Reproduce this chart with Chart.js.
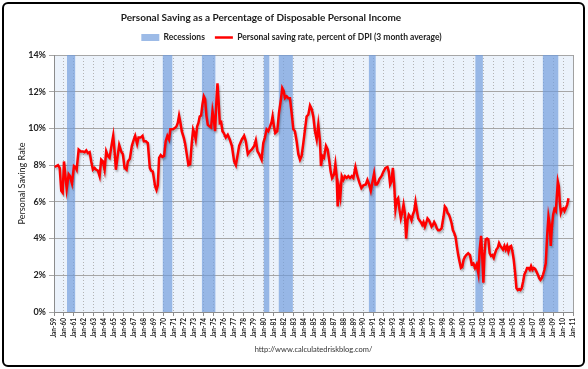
<!DOCTYPE html>
<html><head><meta charset="utf-8">
<script src="https://cdn.jsdelivr.net/npm/chart.js@4.4.0/dist/chart.umd.min.js"></script>
<style>
html,body{margin:0;padding:0;background:#fff;}
#wrap{position:relative;width:588px;height:369px;overflow:hidden;}
#frame{position:absolute;left:2px;top:2px;width:583px;height:365px;box-sizing:border-box;border:2px solid #000;border-radius:6px;pointer-events:none;}
canvas{position:absolute;left:0;top:0;}
</style></head><body>
<div id="wrap"><canvas id="c" width="588" height="369"></canvas><div id="frame"></div></div>
<script>
const chartTitle = 'Personal Saving as a Percentage of Disposable Personal Income';
const sourceText = 'http://www.calculatedriskblog.com/';
const recessionLabel = 'Recessions';
const seriesLabel = 'Personal saving rate, percent of DPI (3 month average)';
const yAxisTitle = 'Personal Saving Rate';

const tickYears = [1959,1960,1961,1962,1963,1964,1965,1966,1967,1968,1969,1970,1971,1972,1973,1974,1975,1976,1977,1978,1979,1980,1981,1982,1983,1984,1985,1986,1987,1988,1989,1990,1991,1992,1993,1994,1995,1996,1997,1998,1999,2000,2001,2002,2003,2004,2005,2006,2007,2008,2009,2010,2011];
const tickLabels = ['Jan-59','Jan-60','Jan-61','Jan-62','Jan-63','Jan-64','Jan-65','Jan-66','Jan-67','Jan-68','Jan-69','Jan-70','Jan-71','Jan-72','Jan-73','Jan-74','Jan-75','Jan-76','Jan-77','Jan-78','Jan-79','Jan-80','Jan-81','Jan-82','Jan-83','Jan-84','Jan-85','Jan-86','Jan-87','Jan-88','Jan-89','Jan-90','Jan-91','Jan-92','Jan-93','Jan-94','Jan-95','Jan-96','Jan-97','Jan-98','Jan-99','Jan-00','Jan-01','Jan-02','Jan-03','Jan-04','Jan-05','Jan-06','Jan-07','Jan-08','Jan-09','Jan-10','Jan-11'];
const yTickValues = [0,2,4,6,8,10,12,14];

const recessionStart = [1960.30,1969.90,1973.82,1980.02,1981.52,1990.55,2001.22,2007.98];
const recessionEnd   = [1961.12,1970.85,1975.17,1980.57,1982.93,1991.23,2001.97,2009.55];
const recessionTop = 14;

const dates = [1959.07,1959.40,1959.57,1959.73,1959.87,1960.00,1960.13,1960.27,1960.47,1960.60,1960.80,1961.00,1961.13,1961.27,1961.47,1961.67,1961.90,1962.07,1962.23,1962.40,1962.57,1962.73,1962.90,1963.07,1963.23,1963.40,1963.57,1963.73,1963.90,1964.07,1964.23,1964.40,1964.57,1964.80,1964.93,1965.07,1965.20,1965.33,1965.53,1965.73,1965.90,1966.07,1966.27,1966.40,1966.60,1966.80,1967.00,1967.13,1967.33,1967.47,1967.67,1967.87,1968.00,1968.20,1968.40,1968.60,1968.73,1968.90,1969.13,1969.27,1969.40,1969.53,1969.69,1969.86,1970.03,1970.19,1970.36,1970.53,1970.66,1970.86,1971.06,1971.26,1971.40,1971.53,1971.67,1971.80,1972.00,1972.13,1972.30,1972.47,1972.64,1972.80,1972.94,1973.07,1973.20,1973.34,1973.47,1973.60,1973.74,1973.87,1974.01,1974.14,1974.27,1974.41,1974.61,1974.74,1974.88,1975.01,1975.14,1975.28,1975.38,1975.48,1975.61,1975.75,1975.88,1976.01,1976.21,1976.41,1976.61,1976.82,1977.05,1977.22,1977.38,1977.55,1977.82,1978.05,1978.22,1978.42,1978.62,1978.82,1979.06,1979.22,1979.39,1979.56,1979.80,1979.97,1980.13,1980.30,1980.47,1980.64,1980.80,1980.90,1981.04,1981.17,1981.37,1981.54,1981.74,1981.87,1982.01,1982.14,1982.31,1982.47,1982.64,1982.81,1982.98,1983.14,1983.31,1983.48,1983.65,1983.81,1983.98,1984.15,1984.31,1984.48,1984.65,1984.82,1984.98,1985.15,1985.32,1985.48,1985.65,1985.75,1985.89,1986.05,1986.25,1986.42,1986.59,1986.72,1986.86,1987.06,1987.19,1987.32,1987.42,1987.56,1987.69,1987.83,1987.99,1988.16,1988.33,1988.49,1988.66,1988.83,1988.99,1989.20,1989.40,1989.60,1989.80,1990.00,1990.24,1990.40,1990.57,1990.74,1990.91,1991.07,1991.21,1991.34,1991.47,1991.61,1991.81,1992.01,1992.21,1992.41,1992.54,1992.68,1992.81,1992.95,1993.08,1993.21,1993.35,1993.48,1993.62,1993.75,1993.88,1994.02,1994.15,1994.28,1994.42,1994.55,1994.68,1994.82,1994.95,1995.09,1995.22,1995.35,1995.49,1995.62,1995.75,1995.89,1996.02,1996.16,1996.29,1996.42,1996.56,1996.69,1996.83,1996.96,1997.09,1997.23,1997.36,1997.49,1997.63,1997.83,1998.03,1998.16,1998.30,1998.43,1998.57,1998.70,1998.83,1998.97,1999.10,1999.23,1999.37,1999.50,1999.63,1999.77,1999.90,2000.04,2000.17,2000.30,2000.50,2000.68,2000.85,2001.02,2001.18,2001.35,2001.52,2001.65,2001.79,2001.92,2002.02,2002.12,2002.25,2002.39,2002.52,2002.65,2002.79,2002.92,2003.06,2003.19,2003.32,2003.46,2003.59,2003.72,2003.86,2003.99,2004.13,2004.26,2004.40,2004.53,2004.66,2004.80,2004.93,2005.06,2005.20,2005.33,2005.47,2005.60,2005.73,2005.86,2006.00,2006.13,2006.27,2006.40,2006.53,2006.67,2006.80,2006.94,2007.07,2007.20,2007.34,2007.47,2007.61,2007.74,2007.87,2008.01,2008.14,2008.27,2008.41,2008.54,2008.67,2008.77,2008.87,2009.01,2009.14,2009.28,2009.38,2009.48,2009.58,2009.68,2009.78,2009.91,2010.05,2010.15,2010.28,2010.42,2010.55];

const savingRate = [7.9,8.0,7.85,6.6,6.5,8.2,7.5,6.7,7.5,7.4,7.0,7.95,7.9,7.75,8.85,8.75,8.75,8.7,8.8,8.65,8.7,8.2,7.75,7.85,7.75,7.7,7.4,8.3,8.2,7.75,8.75,8.5,8.4,9.2,9.6,8.75,7.75,8.3,9.1,8.75,8.6,7.85,7.75,8.2,8.35,9.05,9.4,9.6,9.15,9.5,9.5,9.6,9.3,9.3,9.2,7.85,7.7,7.65,6.85,6.65,6.9,8.4,8.55,8.45,8.5,9.3,9.6,9.4,9.95,9.95,10.0,10.1,10.3,10.7,10.3,9.85,9.5,9.2,8.6,8.0,8.05,9.2,9.95,9.75,9.4,10.1,10.3,10.65,10.7,11.3,11.75,11.6,10.7,10.2,10.1,10.05,10.95,10.5,9.85,11.6,12.45,11.6,10.3,10.35,9.85,9.75,9.5,9.65,9.4,9.05,8.2,8.0,8.5,9.05,9.4,9.6,9.3,8.6,8.75,8.85,9.05,9.35,8.75,8.6,8.3,9.2,9.5,9.95,9.85,10.1,10.35,10.65,10.1,9.75,9.85,10.85,11.6,12.2,12.05,11.65,11.75,11.65,11.65,10.85,9.95,9.85,9.3,8.6,8.3,8.5,9.2,9.95,10.65,10.75,11.25,11.05,10.65,9.85,9.4,10.2,9.3,7.95,8.5,8.4,9.05,8.85,8.2,7.65,7.3,7.5,8.05,7.4,5.75,6.75,6.3,7.4,7.2,7.4,7.3,7.4,7.3,7.4,7.3,7.9,7.4,7.05,6.75,6.9,6.95,7.2,6.95,6.6,7.1,7.55,6.95,6.95,7.05,7.25,7.4,7.65,7.85,7.9,7.65,6.95,7.1,7.85,7.0,5.6,6.1,6.2,5.55,5.1,5.4,5.85,5.4,4.0,5.0,5.3,5.2,5.0,5.3,5.5,6.0,5.55,5.1,5.0,4.9,4.75,4.9,4.65,4.85,5.1,5.0,4.85,4.65,4.75,4.9,4.75,4.55,4.45,4.45,4.55,5.2,5.75,5.65,5.4,5.3,5.1,4.85,4.45,4.3,4.1,3.55,3.1,2.75,2.4,2.45,2.85,3.0,3.1,3.2,3.1,2.6,2.65,2.4,2.6,2.1,3.4,4.15,2.85,1.6,3.05,3.95,4.0,3.95,3.2,3.05,3.1,2.95,3.2,3.4,3.5,3.75,3.6,3.5,3.4,3.6,3.4,3.6,3.3,3.55,3.6,3.3,2.85,2.15,1.3,1.2,1.25,1.2,1.3,1.65,2.05,2.2,2.4,2.4,2.3,2.5,2.3,2.4,2.35,2.2,2.05,1.85,1.75,1.85,2.05,2.3,2.65,4.15,5.2,4.75,3.6,4.5,5.3,5.6,5.5,6.3,7.1,6.85,5.95,5.4,5.6,5.65,5.5,5.65,5.85,6.2];

const FONT = 'Lato, "Open Sans", sans-serif';

const savingPoints = dates.map((d, i) => ({x: d, y: savingRate[i]}));
const recessionPoints = [];
recessionStart.forEach((s, i) => {
  recessionPoints.push({x: s, y: 0}, {x: s, y: recessionTop}, {x: recessionEnd[i], y: recessionTop}, {x: recessionEnd[i], y: 0});
});

const plotDecor = {
  id: 'plotDecor',
  beforeDraw(chart) {
    const {ctx, chartArea: a} = chart;
    ctx.save();
    ctx.fillStyle = '#EBF2FB';
    ctx.fillRect(a.left, a.top, a.right - a.left, a.bottom - a.top);
    ctx.restore();
  },
  beforeDatasetsDraw(chart) {
    const {ctx, chartArea: a} = chart;
    ctx.save();
    ctx.strokeStyle = '#A0A0A0';
    ctx.lineWidth = 1;
    ctx.beginPath();
    ctx.moveTo(Math.round(a.right) + 0.5, a.top);
    ctx.lineTo(Math.round(a.right) + 0.5, a.bottom);
    ctx.stroke();
    ctx.restore();
  },
  afterDraw(chart) {
    const ctx = chart.ctx;
    ctx.save();
    ctx.font = 'bold 10px ' + FONT;
    ctx.fillStyle = '#1a1a1a';
    ctx.textAlign = 'center';
    ctx.textBaseline = 'middle';
    ctx.fillText(chartTitle, 261, 18);
    ctx.restore();
  },
  beforeLayout(chart) {
    const lg = chart.legend;
    if (lg && !lg._spaced) {
      const f = lg.fit;
      lg.fit = function() { f.apply(this, arguments); this.height += 3.25; };
      lg._spaced = true;
    }
  },
  beforeDatasetDraw(chart, args) {
    if (args.index === 1) {
      const c = chart.ctx;
      c.save();
      c.shadowColor = 'rgba(0,0,0,0.28)';
      c.shadowBlur = 2;
      c.shadowOffsetX = 1;
      c.shadowOffsetY = 2;
    }
  },
  afterDatasetDraw(chart, args) {
    if (args.index === 1) chart.ctx.restore();
  }
};

new Chart(document.getElementById('c'), {
  type: 'line',
  data: {
    datasets: [
      {
        label: recessionLabel,
        data: recessionPoints,
        order: 1,
        backgroundColor: 'rgba(110,155,220,0.68)',
        borderColor: 'rgba(0,0,0,0)',
        borderWidth: 0,
        pointRadius: 0,
        pointStyle: 'rect',
        fill: 'origin',
        tension: 0
      },
      {
        label: seriesLabel,
        data: savingPoints,
        order: 0,
        borderColor: '#FF0000',
        backgroundColor: '#FF0000',
        borderWidth: 2.5,
        pointRadius: 0,
        pointStyle: 'line',
        fill: false,
        tension: 0
      }
    ]
  },
  options: {
    responsive: false,
    animation: false,
    events: [],
    layout: { padding: { top: 23.25, left: 10, right: 15, bottom: 10 } },
    plugins: {
      tooltip: { enabled: false },
      title: { display: false },
      legend: {
        position: 'top',
        fullSize: true,
        reverse: true,
        labels: {
          usePointStyle: true,
          pointStyleWidth: 18,
          boxHeight: 7,
          padding: 10,
          color: '#222',
          font: { family: FONT, size: 8.5, weight: 'bold' }
        }
      },
      subtitle: {
        display: true,
        position: 'bottom',
        fullSize: false,
        text: sourceText,
        color: '#333',
        font: { family: FONT, size: 7.5 },
        padding: { top: 1, bottom: 5 }
      }
    },
    scales: {
      x: {
        type: 'linear',
        min: 1959,
        max: 2011,
        afterBuildTicks(scale) { scale.ticks = tickYears.map(v => ({ value: v })); },
        afterFit(scale) { scale.height = 32; },
        ticks: {
          autoSkip: false,
          maxRotation: 90,
          minRotation: 90,
          padding: 2,
          color: '#222',
          font: { family: FONT, size: 6.5, weight: 'bold' },
          callback: (v) => tickLabels[tickYears.indexOf(v)]
        },
        grid: { color: '#B3B3B3', lineWidth: 1, tickLength: 4, tickColor: '#8C8C8C', tickBorderDash: [] },
        border: { display: true, color: '#8C8C8C', dash: [1, 2] }
      },
      y: {
        min: 0,
        max: 14,
        afterBuildTicks(scale) { scale.ticks = yTickValues.map(v => ({ value: v })); },
        afterFit(scale) { scale.width = 44; },
        ticks: {
          padding: 3,
          color: '#222',
          font: { family: FONT, size: 9, weight: 'bold' },
          callback: (v) => v + '%'
        },
        grid: { color: '#A6A6A6', lineWidth: 1, tickLength: 5, tickColor: '#A6A6A6' },
        border: { display: true, color: '#8C8C8C' },
        title: {
          display: true,
          text: yAxisTitle,
          color: '#222',
          font: { family: FONT, size: 9 },
          padding: { top: 6.6, bottom: 0 }
        }
      }
    }
  },
  plugins: [plotDecor]
});
</script>
</body></html>
